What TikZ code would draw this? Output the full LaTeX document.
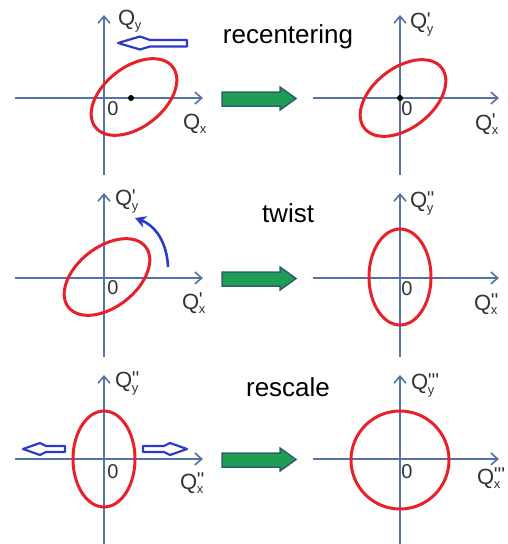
\documentclass[tikz,border=0pt]{standalone}
\usepackage{fontspec}
\setmainfont{Liberation Sans}[Ligatures=TeXOff]
\usetikzlibrary{arrows.meta}
\definecolor{axisblue}{HTML}{5472A4}
\definecolor{ellred}{HTML}{E8202A}
\definecolor{hollowblue}{HTML}{2A3BC8}
\definecolor{arrgreen}{HTML}{1E9E52}
\definecolor{arrborder}{HTML}{2F5F6F}
\definecolor{labgray}{HTML}{333333}
\newcommand{\qlab}[2]{Q\kern-0.5pt\makebox[0pt][l]{\raisebox{0.12em}{\fontsize{20}{20}\selectfont #1}}\raisebox{-0.2em}{\fontsize{13}{13}\selectfont #2}}
\tikzset{
  axis/.style={draw=axisblue, line width=1.8pt, -{Straight Barb[length=7pt,width=12pt,line width=1.6pt]}},
  ell/.style={draw=ellred, line width=3pt},
  qtext/.style={text=labgray, font=\fontsize{22}{24}\selectfont, inner sep=0pt, anchor=west},
  zero/.style={text=labgray, font=\fontsize{20}{22}\selectfont, inner sep=0pt},
  title/.style={text=black, font=\fontsize{26}{28}\selectfont, inner sep=0pt},
  hollow/.style={draw=hollowblue, line width=2.2pt, fill=white, line join=round},
  greenarrow/.style={draw=arrborder, fill=arrgreen, line width=1.5pt, line join=miter},
  dot/.style={circle, fill=black, inner sep=0pt, minimum size=6pt}
}
\begin{document}
\begin{tikzpicture}[x=1pt, y=-1pt]
\useasboundingbox (0,0) rectangle (508,544);

% ---------- Row 1 ----------
\coordinate (a1l) at (15,98);  \coordinate (a1r) at (203,98);
\coordinate (a1b) at (104,175); \coordinate (a1t) at (104,15);
\draw[axis] (a1l) -- (a1r);
\draw[axis] (a1b) -- (a1t);
\draw[ell] (134,97) ellipse [x radius=49, y radius=30, rotate=38];
\node[dot] (d1) at (131,98) {};
\node[zero] (z1) at (113,109) {0};
\node[qtext] (qy1) at (118,21) {\qlab{}{y}};
\node[qtext] (qx1) at (183,124) {\qlab{}{x}};
\draw[hollow] (118,43) -- (140,36.5) -- (150,40) -- (187,40) -- (187,46.5) -- (150,46.5) -- (140,49.5) -- cycle;

\node[title] (t1) at (288,37) {recentering};
\draw[greenarrow] (222,92) -- (280,92) -- (280,87) -- (296,98.5) -- (280,110) -- (280,106) -- (222,106) -- cycle;

\coordinate (b1l) at (313,98);  \coordinate (b1r) at (499,98);
\coordinate (b1b) at (400,175); \coordinate (b1t) at (400,15);
\draw[axis] (b1l) -- (b1r);
\draw[axis] (b1b) -- (b1t);
\draw[ell] (403,98) ellipse [x radius=49, y radius=30, rotate=38];
\node[dot] (d2) at (400,98) {};
\node[zero] (z2) at (407,109) {0};
\node[qtext] (qy2) at (410,24) {\qlab{'}{y}};
\node[qtext] (qx2) at (475,124) {\qlab{'}{x}};

% ---------- Row 2 ----------
\coordinate (a2l) at (15,278);  \coordinate (a2r) at (203,278);
\coordinate (a2b) at (104,357); \coordinate (a2t) at (104,193);
\draw[axis] (a2l) -- (a2r);
\draw[axis] (a2b) -- (a2t);
\draw[ell] (107,277) ellipse [x radius=49, y radius=30, rotate=38];
\node[zero] (z3) at (113,288) {0};
\node[qtext] (qy3) at (115,201) {\qlab{'}{y}};
\node[qtext] (qx3) at (182,303) {\qlab{'}{x}};
\coordinate (cs) at (168,267);
\coordinate (ce) at (135,218);
\draw[draw=hollowblue, line width=2.6pt, -{Stealth[length=11pt,width=12pt]}] (cs) .. controls (167,243) and (156,226) .. (ce);

\node[title] (t2) at (288,213) {twist};
\draw[greenarrow] (222,272) -- (280,272) -- (280,267) -- (296,278.5) -- (280,290) -- (280,286) -- (222,286) -- cycle;

\coordinate (b2l) at (313,278);  \coordinate (b2r) at (499,278);
\coordinate (b2b) at (400,357); \coordinate (b2t) at (400,193);
\draw[axis] (b2l) -- (b2r);
\draw[axis] (b2b) -- (b2t);
\draw[ell] (400,277) ellipse [x radius=31, y radius=48];
\node[zero] (z4) at (407,289) {0};
\node[qtext] (qy4) at (410,203) {\qlab{''}{y}};
\node[qtext] (qx4) at (474,304) {\qlab{''}{x}};

% ---------- Row 3 ----------
\coordinate (a3l) at (15,459);  \coordinate (a3r) at (203,459);
\coordinate (a3b) at (104,544); \coordinate (a3t) at (104,375);
\draw[axis] (a3l) -- (a3r);
\draw[axis] (a3b) -- (a3t);
\draw[ell] (104,459) ellipse [x radius=31, y radius=48];
\node[zero] (z5) at (113,472) {0};
\node[qtext] (qy5) at (115,383) {\qlab{''}{y}};
\node[qtext] (qx5) at (180,483) {\qlab{''}{x}};
\draw[hollow] (23,449) -- (40,443) -- (46,446) -- (65,446) -- (65,452) -- (46,452) -- (40,455) -- cycle;
\draw[hollow] (187,449) -- (170,443) -- (164,446) -- (143,446) -- (143,452) -- (164,452) -- (170,455) -- cycle;

\node[title] (t3) at (288,387) {rescale};
\draw[greenarrow] (222,453) -- (280,453) -- (280,448) -- (296,459.5) -- (280,471) -- (280,467) -- (222,467) -- cycle;

\coordinate (b3l) at (313,459);  \coordinate (b3r) at (499,459);
\coordinate (b3b) at (400,544); \coordinate (b3t) at (400,375);
\draw[axis] (b3l) -- (b3r);
\draw[axis] (b3b) -- (b3t);
\draw[ell] (400,460) circle [radius=49];
\node[zero] (z6) at (407,472) {0};
\node[qtext] (qy6) at (411,385) {\qlab{'''}{y}};
\node[qtext] (qx6) at (477,478) {\qlab{'''}{x}};
\end{tikzpicture}
\end{document}
